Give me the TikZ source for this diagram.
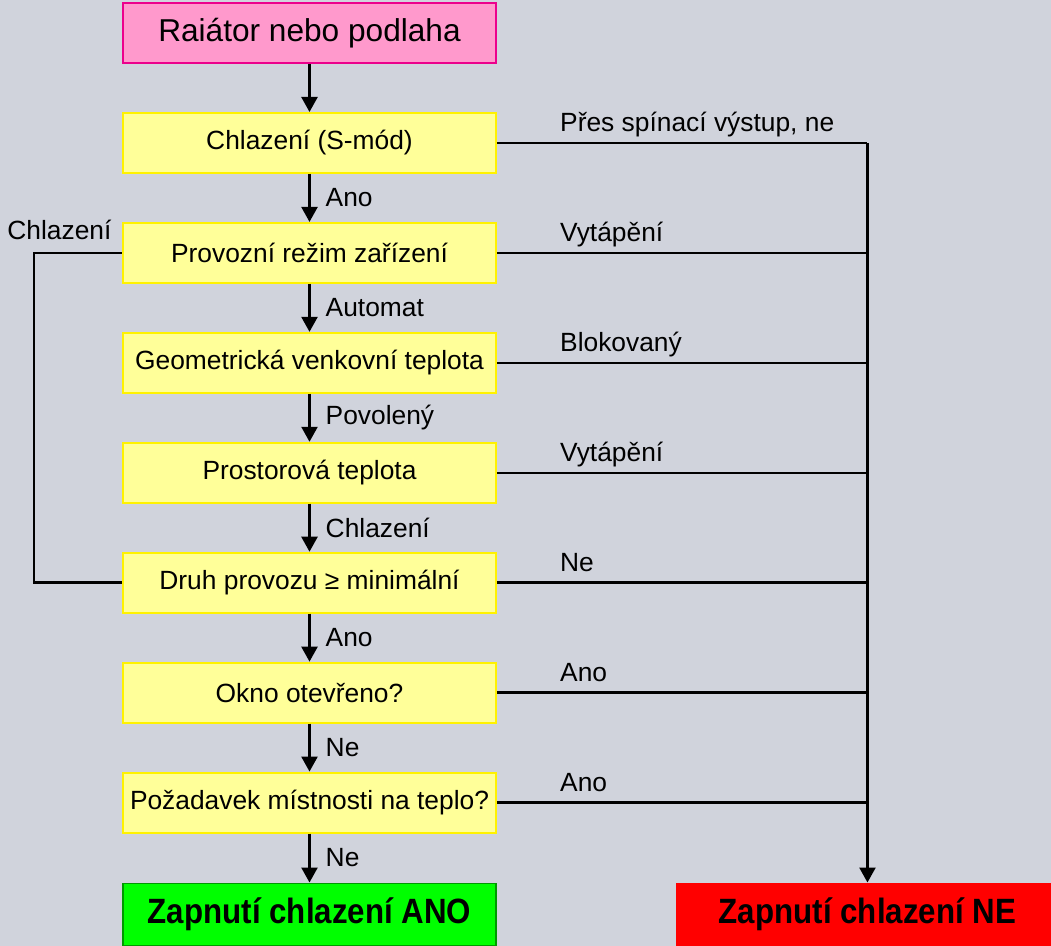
\documentclass[tikz,border=0pt]{standalone}
\usepackage{fontspec}
\setmainfont{Liberation Sans}
\newfontfamily\narrowfont[FakeStretch=0.89]{Liberation Sans}
\usetikzlibrary{arrows.meta,positioning}
\definecolor{bggray}{RGB}{208,211,220}
\definecolor{boxyellow}{RGB}{255,255,153}
\definecolor{pinkfill}{RGB}{255,153,204}
\tikzset{
    box/.style={rectangle, minimum width=7.46cm, minimum height=1.2cm, inner sep=2pt,
        draw=yellow, line width=1.1pt, fill=boxyellow, font=\fontsize{15}{18}\selectfont},
    startbox/.style={box, draw=magenta, fill=pinkfill, font=\fontsize{18}{21}\selectfont},
    resbox/.style={rectangle, minimum width=7.46cm, minimum height=1.24cm, line width=1pt,
        font=\narrowfont\bfseries\fontsize{20}{24}\selectfont},
    arrow/.style={-{Triangle[width=0.32cm,length=0.3cm]}, line width=1.4pt},
    line/.style={line width=1.4pt},
    lbl/.style={font=\fontsize{15}{18}\selectfont, inner sep=0pt},
    rlbl/.style={lbl, anchor=base west, xshift=1.24cm, yshift=0.22cm},
    dlbl/.style={lbl, right=0.3cm}
}

\begin{document}
\begin{tikzpicture}
    \useasboundingbox (0,0) rectangle (21.02,-18.92);
    \clip (0,0) rectangle (21.02,-18.92);
    \fill[bggray] (0,0) rectangle (21.02,-18.92);

    \node[startbox] (src) at (6.19,-0.66) {Raiátor nebo podlaha};
    \node[box, below=0.96cm of src] (smode) {Chlazení (S-mód)};
    \node[box, below=0.96cm of smode] (mode) {Provozní režim zařízení};
    \node[box, below=0.96cm of mode] (geo) {Geometrická venkovní teplota};
    \node[box, below=0.96cm of geo] (room) {Prostorová teplota};
    \node[box, below=0.96cm of room] (minop) {Druh provozu ≥ minimální};
    \node[box, below=0.96cm of minop] (window) {Okno otevřeno?};
    \node[box, below=0.96cm of window] (heatreq) {Požadavek místnosti na teplo?};
    \node[resbox, fill=green, draw=green!60!black, below=0.98cm of heatreq] (coolon) {Zapnutí chlazení ANO};
    \coordinate[right=7.41cm of smode.east] (trunk);
    \node[resbox, fill=red, draw=red, minimum width=7.64cm] (cooloff) at (coolon -| trunk) {Zapnutí chlazení NE};
    \coordinate[left=1.76cm of mode.west] (loop);

    % main chain
    \draw[arrow] (src) -- (smode);
    \draw[arrow] (smode) -- node[dlbl] {Ano} (mode);
    \draw[arrow] (mode) -- node[dlbl] {Automat} (geo);
    \draw[arrow] (geo) -- node[dlbl] {Povolený} (room);
    \draw[arrow] (room) -- node[dlbl] {Chlazení} (minop);
    \draw[arrow] (minop) -- node[dlbl] {Ano} (window);
    \draw[arrow] (window) -- node[dlbl] {Ne} (heatreq);
    \draw[arrow] (heatreq) -- node[dlbl] {Ne} (coolon);

    % branches to the right
    \draw[line] (smode.east) -- node[rlbl, pos=0] {Přes spínací výstup, ne} (trunk);
    \draw[line] (mode.east) -- node[rlbl, pos=0] {Vytápění} (mode -| trunk);
    \draw[line] (geo.east) -- node[rlbl, pos=0] {Blokovaný} (geo -| trunk);
    \draw[line] (room.east) -- node[rlbl, pos=0] {Vytápění} (room -| trunk);
    \draw[line] (minop.east) -- node[rlbl, pos=0] {Ne} (minop -| trunk);
    \draw[line] (window.east) -- node[rlbl, pos=0] {Ano} (window -| trunk);
    \draw[line] (heatreq.east) -- node[rlbl, pos=0] {Ano} (heatreq -| trunk);
    \draw[arrow] (trunk) -- (cooloff);

    % loop back
    \draw[line] (minop.west) -| (loop) -- (mode.west);
    \node[lbl, anchor=base west] (coolback) at ([xshift=-0.54cm, yshift=0.26cm]loop) {Chlazení};
\end{tikzpicture}
\end{document}
